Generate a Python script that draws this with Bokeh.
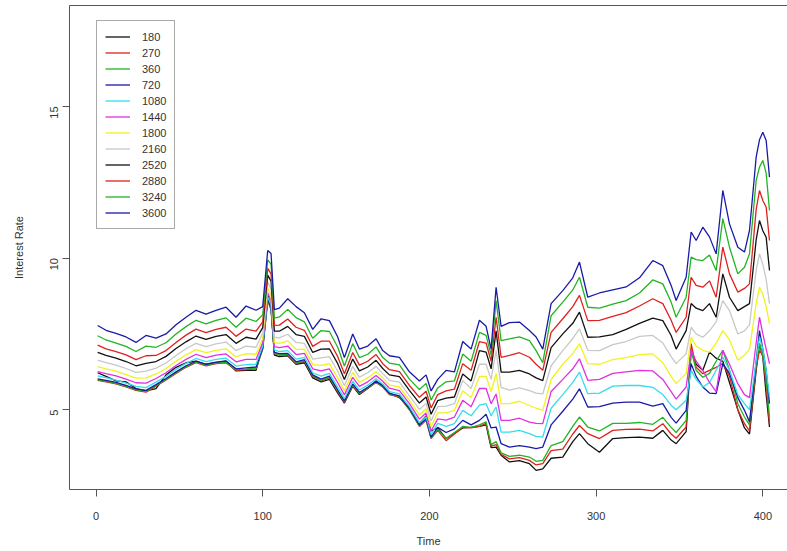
import math
from bokeh.plotting import figure
from bokeh.models import Legend, LegendItem, FixedTicker, Range1d, LinearAxis
from bokeh.embed import file_html
from bokeh.resources import INLINE

time = [1, 6, 12, 18, 24, 30, 36, 42, 48, 54, 60, 66, 72, 78, 84, 90, 96, 100, 103, 105,
        107, 110, 115, 120, 125, 130, 135, 140, 145, 149, 154, 158, 163, 168, 172, 176, 182, 188, 194, 198,
        201, 205, 210, 215, 220, 225, 230, 234, 237, 240, 243, 248, 254, 260, 264, 268, 273, 280, 286, 290,
        295, 302, 310, 318, 326, 334, 340, 345, 348, 354, 357, 360, 364, 368, 372, 376, 380, 385, 389, 392,
        396, 398, 400, 402, 404]

r3600 = [7.78, 7.62, 7.52, 7.40, 7.22, 7.45, 7.36, 7.50, 7.80, 8.05, 8.28, 8.15, 8.28, 8.38, 8.05, 8.42, 8.28, 8.40, 10.25, 10.15,
         8.30, 8.35, 8.66, 8.40, 8.20, 7.65, 8.00, 7.94, 7.40, 6.72, 7.50, 7.00, 7.10, 7.34, 6.95, 6.78, 6.73, 6.25, 5.95, 6.15,
         5.62, 6.00, 6.30, 6.25, 7.25, 7.00, 7.95, 7.75, 7.00, 9.04, 7.75, 7.87, 7.89, 7.61, 7.40, 7.00, 8.50, 8.93, 9.35, 9.87,
         8.71, 8.85, 8.95, 9.05, 9.35, 9.92, 9.75, 9.10, 8.60, 9.37, 10.86, 10.58, 11.02, 10.70, 10.14, 12.23, 11.13, 10.36, 10.20, 10.91,
         13.33, 13.90, 14.15, 13.88, 12.67]
r3240 = [7.44, 7.30, 7.20, 7.09, 6.92, 7.10, 7.06, 7.21, 7.50, 7.74, 7.95, 7.83, 7.95, 8.03, 7.72, 8.02, 7.91, 8.13, 9.94, 9.80,
         8.02, 8.06, 8.31, 8.04, 7.90, 7.36, 7.61, 7.58, 7.06, 6.44, 7.18, 6.72, 6.83, 7.07, 6.72, 6.54, 6.48, 6.01, 5.67, 5.87,
         5.32, 5.72, 5.92, 5.95, 6.84, 6.60, 7.55, 7.45, 6.80, 8.60, 7.28, 7.34, 7.40, 7.28, 6.95, 6.55, 8.10, 8.55, 8.95, 9.37,
         8.38, 8.35, 8.48, 8.60, 8.85, 9.28, 9.15, 8.55, 8.05, 8.71, 10.03, 9.95, 9.92, 10.10, 9.59, 11.30, 10.36, 9.48, 9.70, 10.14,
         12.56, 13.00, 13.22, 12.80, 11.57]
r2880 = [7.13, 7.01, 6.92, 6.81, 6.65, 6.78, 6.79, 6.95, 7.22, 7.46, 7.66, 7.54, 7.65, 7.72, 7.42, 7.66, 7.59, 7.90, 9.66, 9.48,
         7.78, 7.79, 7.99, 7.72, 7.62, 7.09, 7.26, 7.26, 6.75, 6.19, 6.89, 6.47, 6.60, 6.82, 6.52, 6.32, 6.26, 5.80, 5.41, 5.61,
         5.06, 5.50, 5.62, 5.68, 6.52, 6.30, 7.25, 7.20, 6.60, 8.05, 6.73, 6.79, 6.88, 6.73, 6.50, 6.30, 7.55, 8.00, 8.40, 8.77,
         7.94, 7.95, 8.08, 8.20, 8.42, 8.66, 8.50, 7.95, 7.55, 8.05, 9.37, 9.10, 9.04, 9.25, 8.71, 10.36, 9.48, 8.88, 9.00, 9.15,
         11.60, 12.23, 11.90, 11.68, 10.58]
r2520 = [6.89, 6.79, 6.70, 6.59, 6.45, 6.53, 6.59, 6.76, 7.02, 7.24, 7.43, 7.32, 7.42, 7.48, 7.19, 7.39, 7.33, 7.71, 9.44, 9.24,
         7.59, 7.59, 7.75, 7.48, 7.42, 6.89, 7.00, 7.01, 6.52, 6.00, 6.67, 6.28, 6.41, 6.63, 6.36, 6.15, 6.09, 5.64, 5.22, 5.42,
         4.85, 5.30, 5.38, 5.42, 6.18, 5.95, 6.95, 6.90, 6.35, 7.60, 6.24, 6.24, 6.30, 6.18, 6.05, 5.96, 7.05, 7.50, 7.85, 8.22,
         7.39, 7.40, 7.48, 7.65, 7.85, 8.02, 7.94, 7.45, 7.00, 7.61, 8.50, 8.35, 8.27, 8.50, 8.05, 9.48, 8.71, 8.27, 8.40, 8.50,
         10.60, 11.24, 10.90, 10.69, 9.59]
r2160 = [6.64, 6.55, 6.47, 6.36, 6.23, 6.27, 6.37, 6.54, 6.79, 7.01, 7.19, 7.08, 7.17, 7.23, 6.95, 7.10, 7.06, 7.52, 9.21, 8.98,
         7.39, 7.37, 7.49, 7.22, 7.19, 6.67, 6.71, 6.75, 6.27, 5.79, 6.43, 6.07, 6.22, 6.43, 6.19, 5.97, 5.91, 5.46, 5.01, 5.21,
         4.63, 5.10, 5.12, 5.20, 5.96, 5.70, 6.50, 6.50, 6.00, 6.95, 5.74, 5.65, 5.72, 5.63, 5.55, 5.52, 6.45, 6.95, 7.35, 7.67,
         6.96, 6.95, 7.15, 7.25, 7.42, 7.45, 7.20, 6.75, 6.52, 6.85, 7.72, 7.50, 7.39, 7.60, 7.90, 8.60, 8.27, 7.50, 7.60, 7.80,
         9.60, 10.14, 9.80, 9.30, 8.50]
r1800 = [6.42, 6.35, 6.27, 6.16, 6.04, 6.05, 6.18, 6.36, 6.60, 6.81, 6.98, 6.88, 6.96, 7.01, 6.74, 6.85, 6.83, 7.35, 9.01, 8.76,
         7.21, 7.19, 7.27, 6.99, 7.00, 6.49, 6.46, 6.52, 6.05, 5.62, 6.23, 5.90, 6.05, 6.26, 6.05, 5.82, 5.75, 5.31, 4.83, 5.03,
         4.44, 4.90, 4.90, 4.98, 5.63, 5.40, 6.10, 6.10, 5.60, 6.18, 5.20, 5.20, 5.28, 5.14, 5.05, 4.98, 6.00, 6.50, 6.85, 7.18,
         6.52, 6.50, 6.65, 6.72, 6.82, 6.84, 6.55, 6.10, 5.86, 6.19, 7.39, 7.10, 6.96, 6.90, 7.20, 7.61, 7.30, 6.63, 6.80, 7.00,
         8.50, 9.04, 8.80, 8.40, 7.83]
r1440 = [6.26, 6.19, 6.12, 6.01, 5.89, 5.88, 6.03, 6.22, 6.46, 6.66, 6.83, 6.72, 6.80, 6.84, 6.58, 6.66, 6.66, 7.22, 8.86, 8.60,
         7.08, 7.05, 7.10, 6.82, 6.86, 6.35, 6.28, 6.35, 5.89, 5.49, 6.07, 5.77, 5.92, 6.13, 5.94, 5.71, 5.63, 5.20, 4.69, 4.89,
         4.30, 4.70, 4.66, 4.76, 5.31, 5.10, 5.70, 5.70, 5.20, 5.52, 4.65, 4.65, 4.72, 4.59, 4.55, 4.54, 5.60, 6.00, 6.35, 6.68,
         5.97, 6.00, 6.20, 6.25, 6.30, 6.28, 6.00, 5.60, 5.35, 5.75, 6.96, 6.60, 6.30, 5.90, 5.60, 6.96, 6.50, 5.86, 5.50, 5.40,
         7.20, 8.05, 7.50, 7.00, 6.52]
r1080 = [6.12, 6.06, 5.98, 5.88, 5.77, 5.73, 5.91, 6.10, 6.33, 6.53, 6.69, 6.59, 6.66, 6.70, 6.44, 6.49, 6.50, 7.11, 8.73, 8.45,
         6.97, 6.92, 6.95, 6.67, 6.73, 6.22, 6.11, 6.20, 5.74, 5.37, 5.94, 5.65, 5.81, 6.02, 5.85, 5.60, 5.52, 5.10, 4.57, 4.77,
         4.18, 4.55, 4.45, 4.54, 4.98, 4.80, 5.15, 5.20, 4.80, 5.09, 4.26, 4.26, 4.32, 4.21, 4.12, 4.10, 5.05, 5.50, 5.90, 6.24,
         5.53, 5.55, 5.78, 5.80, 5.80, 5.74, 5.50, 5.15, 5.00, 5.31, 6.30, 6.00, 5.75, 5.90, 6.30, 6.73, 6.30, 5.50, 5.20, 5.00,
         6.60, 7.39, 7.00, 6.30, 5.42]
r720 = [6.02, 5.97, 5.90, 5.80, 5.69, 5.64, 5.83, 6.03, 6.25, 6.45, 6.60, 6.50, 6.57, 6.61, 6.35, 6.38, 6.41, 7.04, 8.65, 8.36,
        6.89, 6.85, 6.86, 6.58, 6.65, 6.15, 6.01, 6.11, 5.65, 5.29, 5.85, 5.57, 5.74, 5.94, 5.79, 5.54, 5.46, 5.04, 4.50, 4.70,
        4.10, 4.42, 4.25, 4.37, 4.65, 4.50, 4.65, 4.85, 4.40, 4.43, 3.88, 3.77, 3.82, 3.77, 3.72, 3.77, 4.50, 4.95, 5.35, 5.69,
        5.09, 5.10, 5.22, 5.25, 5.25, 5.12, 5.20, 4.75, 4.56, 4.98, 6.52, 6.10, 5.75, 5.55, 5.53, 6.52, 6.20, 5.40, 4.98, 4.60,
        6.60, 7.61, 7.00, 6.30, 5.20]
r360 = [5.99, 5.94, 5.87, 5.77, 5.66, 5.60, 5.80, 6.00, 6.22, 6.42, 6.57, 6.47, 6.54, 6.57, 6.32, 6.34, 6.37, 7.01, 8.62, 8.32,
        6.86, 6.82, 6.82, 6.54, 6.62, 6.12, 5.97, 6.07, 5.62, 5.27, 5.82, 5.55, 5.72, 5.91, 5.76, 5.52, 5.44, 5.01, 4.47, 4.67,
        4.07, 4.35, 4.05, 4.25, 4.45, 4.42, 4.50, 4.60, 3.85, 3.95, 3.58, 3.46, 3.50, 3.44, 3.30, 3.33, 3.82, 3.95, 4.45, 4.76,
        4.43, 4.30, 4.55, 4.55, 4.58, 4.52, 4.75, 4.42, 4.25, 4.65, 6.96, 6.30, 6.07, 6.20, 6.60, 6.96, 6.30, 5.20, 4.76, 4.50,
        6.50, 7.18, 6.80, 6.00, 4.76]
r270 = [5.97, 5.92, 5.85, 5.75, 5.64, 5.58, 5.78, 5.98, 6.20, 6.40, 6.55, 6.45, 6.52, 6.55, 6.30, 6.32, 6.35, 7.00, 8.60, 8.30,
        6.85, 6.80, 6.80, 6.52, 6.60, 6.10, 5.95, 6.05, 5.60, 5.25, 5.80, 5.53, 5.70, 5.90, 5.75, 5.50, 5.42, 5.00, 4.45, 4.65,
        4.05, 4.32, 3.98, 4.20, 4.42, 4.40, 4.45, 4.55, 3.80, 3.85, 3.53, 3.38, 3.42, 3.33, 3.18, 3.22, 3.65, 3.70, 4.20, 4.48,
        4.21, 4.05, 4.32, 4.35, 4.36, 4.30, 4.54, 4.20, 4.06, 4.43, 7.18, 6.40, 6.19, 6.30, 6.40, 6.52, 6.10, 5.00, 4.54, 4.30,
        6.40, 6.96, 6.80, 5.80, 4.54]
r180 = [6.22, 6.10, 5.95, 5.92, 5.70, 5.62, 5.70, 6.15, 6.40, 6.55, 6.60, 6.50, 6.55, 6.60, 6.28, 6.30, 6.30, 7.10, 8.80, 8.40,
        6.80, 6.75, 6.78, 6.50, 6.55, 6.05, 5.92, 6.00, 5.55, 5.22, 5.78, 5.50, 5.70, 5.95, 5.80, 5.55, 5.40, 5.05, 4.55, 4.80,
        4.30, 4.40, 4.05, 4.22, 4.40, 4.42, 4.45, 4.50, 3.75, 3.77, 3.50, 3.28, 3.32, 3.22, 3.00, 3.05, 3.40, 3.44, 3.95, 4.21,
        3.88, 3.60, 4.05, 4.08, 4.10, 4.06, 4.32, 4.00, 3.88, 4.28, 6.96, 6.50, 6.30, 6.90, 6.70, 6.60, 5.90, 5.00, 4.40, 4.20,
        6.30, 7.18, 6.73, 5.50, 4.43]

maturities = ["180", "270", "360", "720", "1080", "1440", "1800", "2160", "2520", "2880", "3240", "3600"]
series = [r180, r270, r360, r720, r1080, r1440, r1800, r2160, r2520, r2880, r3240, r3600]
colors = ["#111111", "#E0201E", "#22B422", "#1A1AA8", "#33DDEE", "#E030E0",
          "#F2F21E", "#C8C8C8", "#111111", "#E0201E", "#22B422", "#1A1AA8"]
x_ticks = [0, 100, 200, 300, 400]
y_ticks = [5, 10, 15]

FONT = "Liberation Sans"
TEXT = "#333333"
AXC = "#555555"

p = figure(width=787, height=551, output_backend="svg", toolbar_location=None,
           x_range=Range1d(-15.9, 414.8), y_range=Range1d(2.37, 18.33),
           min_border_left=69, min_border_right=0, min_border_top=5, min_border_bottom=62,
           x_axis_label="Time", y_axis_label="Interest Rate")
p.grid.visible = False
p.outline_line_color = None
p.background_fill_color = "white"
p.border_fill_color = "white"

for ax in (p.xaxis[0], p.yaxis[0]):
    ax.axis_line_color = AXC
    ax.major_tick_line_color = AXC
    ax.major_tick_out = 7
    ax.major_tick_in = 0
    ax.minor_tick_line_color = None
    ax.major_label_text_font = FONT
    ax.major_label_text_font_size = "11px"
    ax.major_label_text_color = TEXT
    ax.axis_label_text_font = FONT
    ax.axis_label_text_font_size = "11px"
    ax.axis_label_text_font_style = "normal"
    ax.axis_label_text_color = TEXT

p.xaxis[0].ticker = FixedTicker(ticks=x_ticks)
p.yaxis[0].ticker = FixedTicker(ticks=y_ticks)
p.xaxis[0].major_label_standoff = 15
p.xaxis[0].axis_label_standoff = 12
p.yaxis[0].major_label_orientation = math.pi / 2
p.yaxis[0].major_label_standoff = 8
p.yaxis[0].axis_label_standoff = 19

# top edge of the box (the right edge lies outside the window in the reference)
top_edge = LinearAxis(ticker=FixedTicker(ticks=[]), major_tick_out=0, major_tick_in=0,
                      minor_tick_out=0, minor_tick_in=0, major_label_standoff=0,
                      major_label_text_font_size="0px", axis_line_color=AXC)
p.add_layout(top_edge, "above")

items = []
for name, ys, c in zip(maturities, series, colors):
    r = p.line(time, ys, line_color=c, line_width=1.3)
    items.append(LegendItem(label=name, renderers=[r]))

legend = Legend(items=items, location=(27, 260), padding=8, spacing=1,
                label_height=15, glyph_height=15, glyph_width=25, label_standoff=12,
                label_text_font=FONT, label_text_font_size="11px", label_text_color=TEXT,
                border_line_color=AXC, border_line_width=1, background_fill_alpha=1.0,
                margin=0)
p.add_layout(legend)

open("out.html", "w").write(file_html(p, INLINE))
